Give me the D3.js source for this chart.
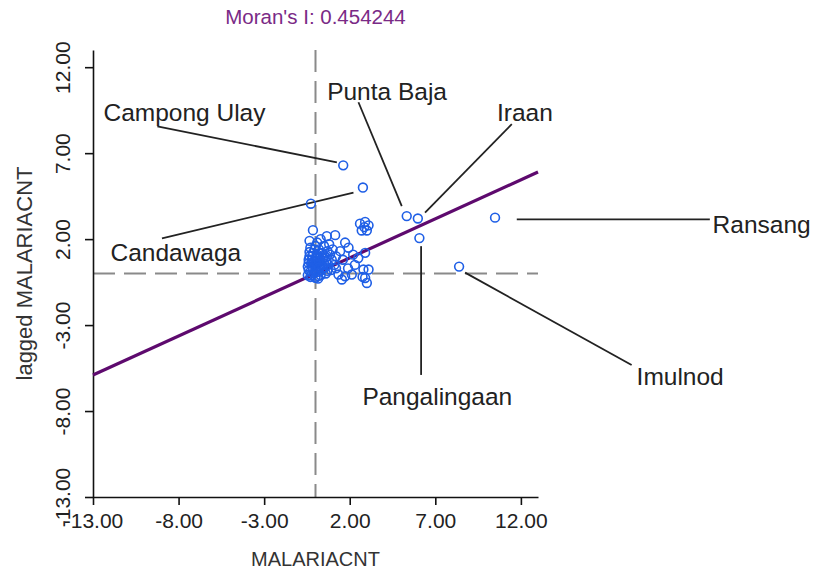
<!DOCTYPE html>
<html>
<head>
<meta charset="utf-8">
<script src="https://cdn.jsdelivr.net/npm/d3@7"></script>
<style>
  body { margin: 0; background: #fff; }
  text { font-family: "Liberation Sans", Arial, sans-serif; }
</style>
</head>
<body>
<div id="chart"></div>
<script>
// Moran scatter plot values (MALARIACNT vs lagged MALARIACNT)
var moranI = 0.454244;
var xTicks = [-13, -8, -3, 2, 7, 12];
var yTicks = [-13, -8, -3, 2, 7, 12];

var xVals = [
  -0.4, -0.4, -0.35, -0.3, -0.3, -0.2, -0.2, -0.15, -0.1, -0.1,
  0.0, 0.0, 0.05, 0.1, 0.1, 0.2, 0.2, 0.25, 0.3, 0.3,
  0.4, 0.45, 0.5, 0.5, 0.6, 0.6, 0.7, 0.75, 0.8, 0.9,
  0.95, 1.0, 1.1, 1.2, -0.35, 0.1, 0.3, 1.2, -0.25, 0.15,
  -0.45, -0.45, -0.4, -0.3, -0.25, -0.2, -0.15, -0.1, -0.05, 0.0,
  0.05, 0.1, 0.15, 0.2, 0.25, 0.35, 0.4, 0.45, 0.55, 0.65,
  0.7, 0.85, 0.0, -0.35, 0.2, 0.5,
  0.66, 1.15, 1.73, 1.93, 1.44, 2.2, 2.5, 2.9, 1.6, 1.34,
  1.73, 2.12, 1.54, 1.9, 2.8, 3.1, 2.75, 2.9, 3.0, 2.3,
  -0.15, -0.27, 1.62, 2.77,
  2.6, 2.9, 3.1, 2.7, 3.0, 2.85,
  5.33, 5.98, 6.07, 10.49, 8.39
];
var yVals = [
  0.2, 0.6, 1.0, 1.5, -0.2, 0.4, 0.8, 1.2, 0.0, 0.5,
  0.9, -0.25, 0.3, 0.6, 1.1, 0.1, 1.4, 0.45, 0.8, -0.1,
  1.2, 0.3, 0.6, 1.6, 0.0, 0.95, 1.3, 0.5, 1.7, 0.2,
  0.8, 1.4, 0.5, 1.0, 1.9, 1.8, 2.0, 0.3, -0.1, -0.3,
  -0.1, 0.4, 0.8, 0.1, 0.6, 1.0, 0.25, 0.7, 1.4, 0.15,
  0.55, 1.0, -0.15, 0.7, 1.2, 0.2, 0.5, 0.9, 0.35, 0.7,
  0.15, 1.1, 1.6, 1.25, 0.35, 1.05,
  2.17, 2.23, 1.8, 1.5, 1.3, 1.1, 0.9, 1.2, 0.8, -0.06,
  -0.16, -0.06, -0.35, 0.3, 0.23, 0.23, -0.2, -0.26, -0.55, 0.5,
  2.52, 4.06, 6.29, 5.0,
  2.9, 3.0, 2.8, 2.5, 2.5, 2.7,
  3.34, 3.2, 2.06, 3.25, 0.4
];

// labelled observations: text anchor and leader line, in data units
var labelNames = ["Campong Ulay", "Candawaga", "Punta Baja", "Iraan", "Ransang", "Imulnod", "Pangalingaan"];
var labelX = [-12.39, -11.98, 0.68, 10.6, 23.2, 18.76, 2.74];
var labelY = [8.87, 0.71, 10.11, 8.88, 2.37, -6.49, -7.65];
var leadX1 = [-9.24, -8.97, 2.51, 11.47, 11.76, 8.74, 6.17];
var leadY1 = [8.56, 2.04, 9.96, 8.69, 3.15, 0.05, 1.59];
var leadX2 = [1.25, 2.22, 5.04, 6.40, 23.04, 18.47, 6.17];
var leadY2 = [6.46, 4.71, 3.92, 3.54, 3.15, -5.32, -5.9];

var W = 819, H = 576;
var margin = { top: 50, left: 93, right: 281, bottom: 79 };

var svg = d3.select("#chart").append("svg")
    .attr("width", W)
    .attr("height", H);

svg.append("rect").attr("width", W).attr("height", H).attr("fill", "#fff");

var x = d3.scaleLinear()
    .domain([-13, 13])
    .range([margin.left, W - margin.right]);

var y = d3.scaleLinear()
    .domain([-13, 13])
    .range([H - margin.bottom, margin.top]);

var points = xVals.map(function (v, i) { return { x: v, y: yVals[i] }; });

// title
svg.append("text")
    .attr("x", x(0))
    .attr("y", 24)
    .attr("text-anchor", "middle")
    .attr("font-size", 20.5)
    .attr("fill", "#7a2a86")
    .text("Moran's I: " + moranI);

// quadrant dashed lines through the origin
svg.append("line")
    .attr("x1", x(0)).attr("x2", x(0))
    .attr("y1", y(13)).attr("y2", y(-13))
    .attr("stroke", "#8a8a8a").attr("stroke-width", 2)
    .attr("stroke-dasharray", "22,9");

svg.append("line")
    .attr("x1", x(-13)).attr("x2", x(13))
    .attr("y1", y(0)).attr("y2", y(0))
    .attr("stroke", "#8a8a8a").attr("stroke-width", 2)
    .attr("stroke-dasharray", "22,9");

// axes
var fmt = function (d) { return d.toFixed(2); };

var xAxisGroup = svg.append("g")
    .attr("transform", "translate(0," + y(-13) + ")")
    .call(d3.axisBottom(x).tickValues(xTicks).tickFormat(fmt).tickSize(8).tickSizeOuter(0));

xAxisGroup.selectAll("text")
    .attr("font-size", 21)
    .attr("fill", "#222")
    .attr("dy", "0.95em");

var yAxisGroup = svg.append("g")
    .attr("transform", "translate(" + x(-13) + ",0)")
    .call(d3.axisLeft(y).tickValues(yTicks).tickFormat(fmt).tickSize(8).tickSizeOuter(0));

yAxisGroup.selectAll("text")
    .attr("font-size", 21)
    .attr("fill", "#222")
    .attr("text-anchor", "middle")
    .attr("x", 0).attr("dy", 0)
    .attr("transform", function () {
        return "translate(-23,0) rotate(-90)";
    });

svg.selectAll(".domain, .tick line")
    .attr("stroke", "#111")
    .attr("stroke-width", 1.6);

// axis titles
svg.append("text")
    .attr("x", x(0))
    .attr("y", 566)
    .attr("text-anchor", "middle")
    .attr("font-size", 20)
    .attr("fill", "#333")
    .text("MALARIACNT");

svg.append("text")
    .attr("transform", "translate(32," + y(0) + ") rotate(-90)")
    .attr("text-anchor", "middle")
    .attr("font-size", 22)
    .attr("fill", "#333")
    .text("lagged MALARIACNT");

// regression line, slope = Moran's I
svg.append("line")
    .attr("x1", x(-13)).attr("y1", y(-13 * moranI))
    .attr("x2", x(13)).attr("y2", y(13 * moranI))
    .attr("stroke", "#5e0a6e")
    .attr("stroke-width", 3.2);

// leader lines
svg.append("g")
    .selectAll("line")
    .data(labelNames)
    .enter()
    .append("line")
    .attr("x1", function (d, i) { return x(leadX1[i]); })
    .attr("y1", function (d, i) { return y(leadY1[i]); })
    .attr("x2", function (d, i) { return x(leadX2[i]); })
    .attr("y2", function (d, i) { return y(leadY2[i]); })
    .attr("stroke", "#222")
    .attr("stroke-width", 1.8);

// observations
svg.append("g")
    .selectAll("circle")
    .data(points)
    .enter()
    .append("circle")
    .attr("cx", function (d) { return x(d.x); })
    .attr("cy", function (d) { return y(d.y); })
    .attr("r", 4.4)
    .attr("fill", "none")
    .attr("stroke", "#1f5fe6")
    .attr("stroke-width", 1.6);

// labels
svg.append("g")
    .selectAll("text")
    .data(labelNames)
    .enter()
    .append("text")
    .attr("x", function (d, i) { return x(labelX[i]); })
    .attr("y", function (d, i) { return y(labelY[i]); })
    .attr("font-size", 24.5)
    .attr("fill", "#222")
    .text(function (d) { return d; });
</script>
</body>
</html>
